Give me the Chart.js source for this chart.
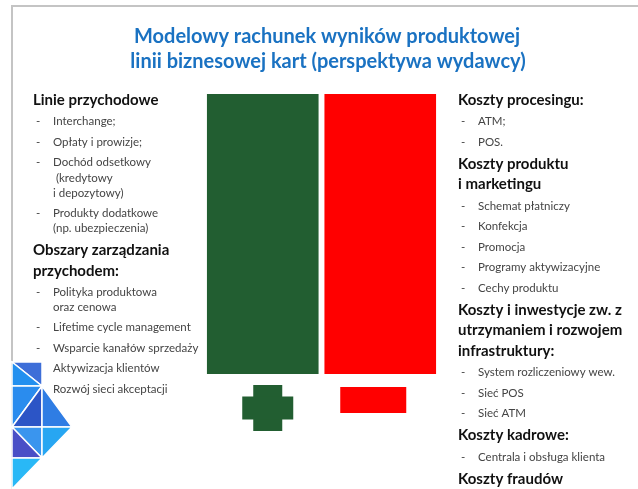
<!DOCTYPE html>
<html>
<head>
<meta charset="utf-8">
<script src="https://cdn.jsdelivr.net/npm/chart.js@4"></script>
<style>
  html, body { margin: 0; padding: 0; background: #fff; }
  #wrap { width: 638px; height: 489px; position: relative; }
</style>
</head>
<body>
<div id="wrap"><canvas id="pnl"></canvas></div>
<script>
// dane wykresu
const categories = ['Przychody', 'Koszty'];
const values = [100, 100];
const barColors = ['#225e31', '#ff0000'];
const signs = ['+', '-'];

const titleLines = [
  'Modelowy rachunek wyników produktowej',
  'linii biznesowej kart (perspektywa wydawcy)'
];

// h = naglowek, hc = ciag dalszy naglowka, i = punkt, c = ciag dalszy punktu
const leftItems = [
  ['h', 'Linie przychodowe'],
  ['i', 'Interchange;'],
  ['i', 'Opłaty i prowizje;'],
  ['i', 'Dochód odsetkowy'],
  ['c', ' (kredytowy'],
  ['c', 'i depozytowy)'],
  ['i', 'Produkty dodatkowe'],
  ['c', '(np. ubezpieczenia)'],
  ['h', 'Obszary zarządzania'],
  ['hc', 'przychodem:'],
  ['i', 'Polityka produktowa'],
  ['c', 'oraz cenowa'],
  ['i', 'Lifetime cycle management'],
  ['i', 'Wsparcie kanałów sprzedaży'],
  ['i', 'Aktywizacja klientów'],
  ['i', 'Rozwój sieci akceptacji']
];

const rightItems = [
  ['h', 'Koszty procesingu:'],
  ['i', 'ATM;'],
  ['i', 'POS.'],
  ['h', 'Koszty produktu'],
  ['hc', 'i marketingu'],
  ['i', 'Schemat płatniczy'],
  ['i', 'Konfekcja'],
  ['i', 'Promocja'],
  ['i', 'Programy aktywizacyjne'],
  ['i', 'Cechy produktu'],
  ['h', 'Koszty i inwestycje zw. z'],
  ['hc', 'utrzymaniem i rozwojem'],
  ['hc', 'infrastruktury:'],
  ['i', 'System rozliczeniowy wew.'],
  ['i', 'Sieć POS'],
  ['i', 'Sieć ATM'],
  ['h', 'Koszty kadrowe:'],
  ['i', 'Centrala i obsługa klienta'],
  ['h', 'Koszty fraudów']
];

const FONT = 'Lato, "Open Sans", sans-serif';

function gapBefore(prev, cur) {
  if (cur === 'h') return 22;
  if (cur === 'hc') return 20.5;
  if (cur === 'c') return 15.3;
  if (prev === 'h' || prev === 'hc') return 21.5;
  if (prev === 'c') return 20;
  return 20.5;
}

function drawList(ctx, items, x0, y0) {
  var y = y0;
  for (var i = 0; i < items.length; i++) {
    var t = items[i][0], s = items[i][1];
    if (i > 0) y += gapBefore(items[i - 1][0], t);
    if (t === 'h' || t === 'hc') {
      ctx.font = 'bold 15px ' + FONT;
      ctx.fillStyle = '#111';
      ctx.fillText(s, x0, y);
    } else {
      ctx.font = '11.5px ' + FONT;
      ctx.fillStyle = '#444';
      if (t === 'i') ctx.fillText('-', x0 + 3, y);
      ctx.fillText(s, x0 + 20, y);
    }
  }
}

function drawTriangles(ctx) {
  var tris = [
    [[12, 362], [42, 362], [42, 386], '#3d6ed8'],
    [[12, 362], [12, 386], [42, 386], '#2390ef'],
    [[12, 386], [42, 386], [12, 427], '#2a8cee'],
    [[42, 386], [42, 427], [12, 427], '#2c55c6'],
    [[42, 386], [72, 427], [42, 427], '#2f7de4'],
    [[12, 427], [42, 427], [42, 458], '#3a95ee'],
    [[12, 427], [12, 458], [42, 458], '#4a4fc6'],
    [[42, 427], [72, 427], [42, 458], '#27a6f2'],
    [[12, 458], [42, 458], [12, 489], '#29b8f6']
  ];
  ctx.save();
  ctx.strokeStyle = '#fff';
  ctx.lineWidth = 1.5;
  tris.forEach(function (t) {
    ctx.beginPath();
    ctx.moveTo(t[0][0], t[0][1]);
    ctx.lineTo(t[1][0], t[1][1]);
    ctx.lineTo(t[2][0], t[2][1]);
    ctx.closePath();
    ctx.fillStyle = t[3];
    ctx.fill();
    ctx.stroke();
  });
  ctx.restore();
}

const slidePlugin = {
  id: 'slide',
  beforeDraw: function (chart) {
    var ctx = chart.ctx;
    ctx.save();
    ctx.fillStyle = '#fff';
    ctx.fillRect(0, 0, chart.width, chart.height);
    // ramka slajdu
    ctx.strokeStyle = '#c4c4c4';
    ctx.lineWidth = 2;
    ctx.beginPath();
    ctx.moveTo(12, chart.height);
    ctx.lineTo(12, 6);
    ctx.lineTo(chart.width, 6);
    ctx.stroke();
    ctx.restore();
  },
  afterDraw: function (chart) {
    var ctx = chart.ctx;
    ctx.save();
    ctx.textBaseline = 'middle';
    // tytul
    ctx.textAlign = 'center';
    ctx.fillStyle = '#1a72c2';
    ctx.font = 'bold 20px ' + FONT;
    ctx.fillText(titleLines[0], 327, 37);
    ctx.fillText(titleLines[1], 328, 62);

    ctx.textAlign = 'left';
    drawList(ctx, leftItems, 33, 100);
    drawList(ctx, rightItems, 458, 100);

    // znaki pod slupkami
    var bars = chart.getDatasetMeta(0).data;
    var bottom = chart.chartArea.bottom;
    signs.forEach(function (s, i) {
      var b = bars[i];
      ctx.fillStyle = barColors[i];
      if (s === '+') {
        var cx = b.x + 5, cy = bottom + 34;
        ctx.fillRect(cx - 14.5, cy - 23, 29, 46);
        ctx.fillRect(cx - 25.5, cy - 11.5, 51, 23);
      } else {
        var mx = b.x - 7, my = bottom + 26;
        ctx.fillRect(mx - 33, my - 13, 66, 26);
      }
    });

    drawTriangles(ctx);
    ctx.restore();
  }
};

new Chart(document.getElementById('pnl'), {
  type: 'bar',
  data: {
    labels: categories,
    datasets: [{
      data: values,
      backgroundColor: barColors,
      borderWidth: 0,
      barPercentage: 0.95,
      categoryPercentage: 1
    }]
  },
  options: {
    responsive: true,
    maintainAspectRatio: false,
    animation: false,
    layout: { padding: { left: 204, right: 199, top: 94, bottom: 115 } },
    plugins: {
      legend: { display: false },
      tooltip: { enabled: false },
      title: { display: false }
    },
    scales: {
      x: { display: false },
      y: { display: false, min: 0, max: 100 }
    }
  },
  plugins: [slidePlugin]
});
</script>
</body>
</html>
